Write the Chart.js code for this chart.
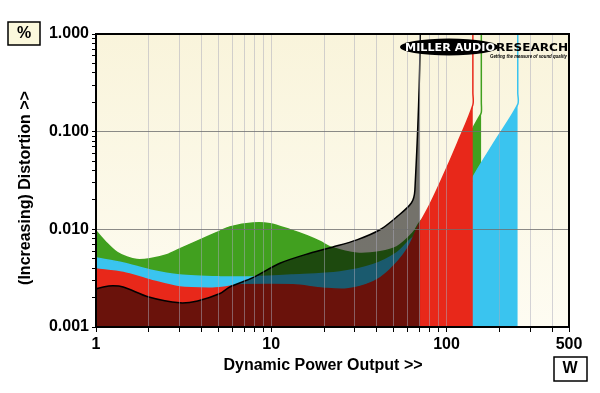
<!DOCTYPE html>
<html lang="en">
<head>
<meta charset="UTF-8">
<title>Dynamic Power Output</title>
<style>
  html, body { margin: 0; padding: 0; background: #fff; }
</style>
</head>
<body>
<canvas id="myChart" width="600" height="393"></canvas>
<script src="https://cdn.jsdelivr.net/npm/chart.js"></script>
<script>
// power (W) and distortion (%); last points of each are the clipping spike
const blackX = [1, 1.1, 1.25, 1.43, 2.0, 3.0, 3.8, 5.1, 5.8, 7.85, 11.2, 16.6, 22.5, 30.8, 41.7, 52, 63, 66, 70.8, 70.8];
const blackY = [0.00245, 0.00257, 0.00264, 0.00257, 0.00203, 0.00177, 0.00185, 0.0022, 0.00257, 0.0032, 0.0045, 0.0057, 0.0066, 0.0078, 0.0099, 0.0134, 0.0186, 0.0253, 1.0, 10000];

const redX = [1, 1.43, 2.03, 3.0, 4.47, 5.5, 6.9, 13.3, 19.7, 27, 38, 47.4, 59.3, 68.7, 80.5, 95.3, 116, 141.4, 141.4, 141.4];
const redY = [0.00393, 0.00362, 0.00303, 0.00257, 0.0025, 0.00257, 0.0027, 0.0027, 0.0025, 0.00245, 0.0029, 0.00384, 0.00615, 0.0106, 0.018, 0.0344, 0.0776, 0.188, 0.25, 10000];

const cyanX = [1, 1.43, 2.03, 3.0, 5.1, 7.85, 13, 24.6, 38, 52, 62, 72, 85, 100, 120, 141, 141.5, 190, 255, 255, 255];
const cyanY = [0.0051, 0.00453, 0.00384, 0.00341, 0.00326, 0.00326, 0.0034, 0.00366, 0.00433, 0.00573, 0.00779, 0.0098, 0.014, 0.019, 0.025, 0.03, 0.034, 0.081, 0.19, 0.25, 10000];

const greenX = [1, 1.155, 1.32, 1.5, 1.71, 2.03, 2.54, 3.0, 3.92, 5.1, 5.81, 7.85, 9.84, 12.8, 16, 19, 21.7, 30.8, 41.7, 52, 64.3, 70.5, 85, 100, 120, 141.4, 153, 158, 158, 158];
const greenY = [0.0096, 0.0072, 0.0058, 0.0052, 0.0049, 0.0050, 0.0055, 0.0063, 0.0078, 0.0096, 0.0106, 0.0116, 0.0114, 0.0099, 0.0086, 0.0075, 0.0066, 0.0057, 0.0059, 0.0066, 0.0092, 0.0119, 0.017, 0.025, 0.05, 0.108, 0.14, 0.158, 0.2, 10000];

const xTicks = [1, 2, 3, 4, 5, 6, 7, 8, 9, 10, 20, 30, 40, 50, 60, 70, 80, 90, 100, 200, 300, 400, 500];
const xLabels = [1, 10, 100, 500];
const yTicks = [0.001, 0.002, 0.003, 0.004, 0.005, 0.006, 0.007, 0.008, 0.009,
                0.01, 0.02, 0.03, 0.04, 0.05, 0.06, 0.07, 0.08, 0.09,
                0.1, 0.2, 0.3, 0.4, 0.5, 0.6, 0.7, 0.8, 0.9, 1];
const yLabels = [0.001, 0.01, 0.1, 1];

const pts = (xs, ys) => xs.map((x, i) => ({x: x, y: ys[i]}));

function fitText(ctx, txt, x, y, w, font, color) {
    ctx.save();
    ctx.font = font;
    ctx.fillStyle = color;
    ctx.textBaseline = 'alphabetic';
    const m = ctx.measureText(txt).width;
    ctx.translate(x, y);
    ctx.scale(w / m, 1);
    ctx.fillText(txt, 0, 0);
    ctx.restore();
}

const decor = {
    id: 'decor',
    beforeDraw(chart) {
        const {ctx, chartArea: a} = chart;
        const g = ctx.createLinearGradient(0, a.top, 0, a.bottom);
        g.addColorStop(0, '#f9f4db');
        g.addColorStop(1, '#fefcf2');
        ctx.save();
        ctx.fillStyle = g;
        ctx.fillRect(a.left, a.top, a.right - a.left, a.bottom - a.top);
        ctx.restore();
    },
    afterDraw(chart) {
        const {ctx, chartArea: a} = chart;
        ctx.save();
        ctx.strokeStyle = '#000';
        ctx.lineWidth = 2;
        ctx.strokeRect(a.left, a.top, a.right - a.left, a.bottom - a.top);

        // unit boxes
        ctx.lineWidth = 1.5;
        ctx.fillStyle = '#fbf8dc';
        ctx.fillRect(8, 22, 32, 23);
        ctx.strokeRect(8, 22, 32, 23);
        ctx.fillStyle = '#fff';
        ctx.fillRect(554, 357, 33, 24);
        ctx.strokeRect(554, 357, 33, 24);
        ctx.fillStyle = '#000';
        ctx.font = 'bold 16px "Liberation Sans", Arial, sans-serif';
        ctx.textAlign = 'center';
        ctx.textBaseline = 'middle';
        ctx.fillText('%', 24, 34);
        ctx.fillText('W', 570, 369);

        // axis titles
        ctx.fillText('Dynamic Power Output >>', 323, 366);
        ctx.translate(26, 188);
        ctx.rotate(-Math.PI / 2);
        ctx.fillText('(Increasing) Distortion >>', 0, 0);
        ctx.restore();

        // logo
        ctx.save();
        ctx.fillStyle = '#000';
        ctx.beginPath();
        ctx.ellipse(449, 47, 49, 8.5, 0, 0, Math.PI * 2);
        ctx.fill();
        ctx.restore();
        fitText(ctx, 'MILLER AUDIO', 405, 51, 90, 'bold 11px "DejaVu Sans"', '#fff');
        fitText(ctx, 'RESEARCH', 496, 51, 72, 'bold 11px "DejaVu Sans"', '#000');
        fitText(ctx, 'Getting the measure of sound quality', 490, 58, 77, 'bold italic 6px "Liberation Sans"', '#000');
    }
};

const ctx = document.getElementById('myChart');
new Chart(ctx, {
    type: 'line',
    data: {
        datasets: [
            { label: 'black', data: pts(blackX, blackY), borderColor: '#000', borderWidth: 1.5,
              backgroundColor: 'rgba(0,0,0,0.54)', fill: 'start' },
            { label: 'red', data: pts(redX, redY), borderColor: '#e8281a', borderWidth: 1.5,
              backgroundColor: '#e8281a', fill: 'start' },
            { label: 'cyan', data: pts(cyanX, cyanY), borderColor: '#3ac4ef', borderWidth: 1.5,
              backgroundColor: '#3ac4ef', fill: 'start' },
            { label: 'green', data: pts(greenX, greenY), borderColor: '#41a01f', borderWidth: 1.5,
              backgroundColor: '#41a01f', fill: 'start' }
        ]
    },
    options: {
        responsive: false,
        animation: false,
        elements: { point: { radius: 0 }, line: { tension: 0.3 } },
        layout: { padding: { top: 34, right: 31, left: 0, bottom: 0 } },
        plugins: { legend: { display: false }, tooltip: { enabled: false } },
        scales: {
            x: {
                type: 'logarithmic',
                min: 1, max: 500,
                afterBuildTicks: s => { s.ticks = xTicks.map(v => ({value: v})); },
                afterFit: s => { s.height = 66; },
                border: { display: false },
                grid: { z: 1, color: 'rgba(170,170,185,0.5)', tickColor: '#000', tickLength: 5 },
                ticks: {
                    autoSkip: false, maxRotation: 0, padding: 3, color: '#000',
                    font: { family: '"Liberation Sans", Arial, sans-serif', size: 16, weight: 'bold' },
                    callback: v => xLabels.includes(v) ? String(v) : ''
                }
            },
            y: {
                type: 'logarithmic',
                min: 0.001, max: 1,
                afterBuildTicks: s => { s.ticks = yTicks.map(v => ({value: v})); },
                afterFit: s => { s.width = 96; },
                border: { display: false },
                grid: {
                    z: 1, tickLength: 4, tickColor: '#000',
                    color: c => yLabels.includes(c.tick && c.tick.value) ? 'rgba(110,110,110,0.8)' : 'rgba(0,0,0,0)'
                },
                ticks: {
                    autoSkip: false, padding: 3, color: '#000',
                    font: { family: '"Liberation Sans", Arial, sans-serif', size: 16, weight: 'bold' },
                    callback: v => yLabels.includes(v) ? v.toFixed(3) : ''
                }
            }
        }
    },
    plugins: [decor]
});
</script>
</body>
</html>
